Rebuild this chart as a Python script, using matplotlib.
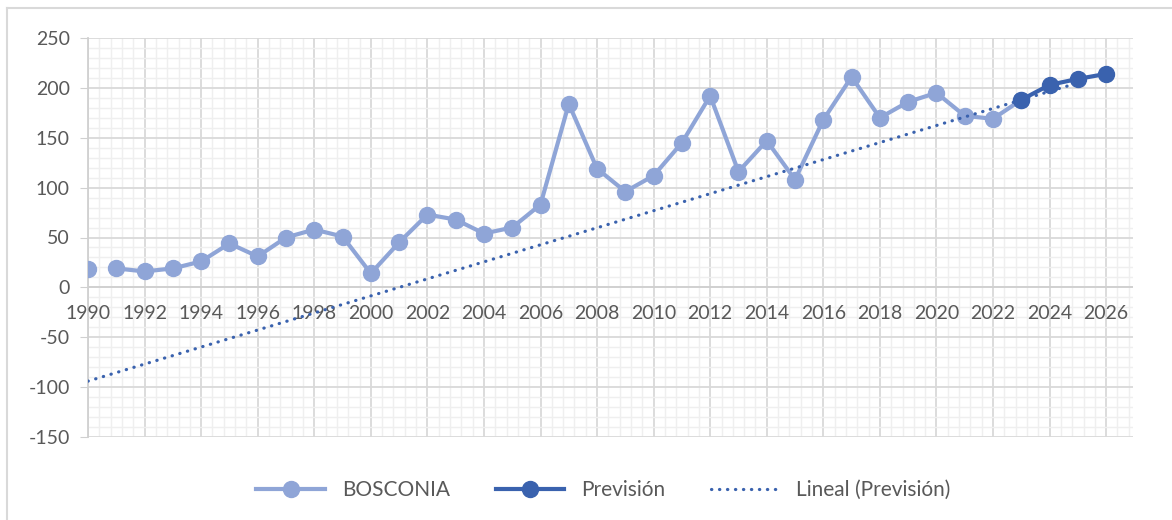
import matplotlib.pyplot as plt
from matplotlib.ticker import MultipleLocator
from matplotlib.lines import Line2D

# --- datos ---
years = [1990, 1991, 1992, 1993, 1994, 1995, 1996, 1997, 1998, 1999,
         2000, 2001, 2002, 2003, 2004, 2005, 2006, 2007, 2008, 2009,
         2010, 2011, 2012, 2013, 2014, 2015, 2016, 2017, 2018, 2019,
         2020, 2021, 2022, 2023]
bosconia = [18, 19, 16, 19, 26, 44, 31, 50, 58, 51,
            14, 45, 73, 68, 54, 60, 83, 184, 119, 96,
            112, 145, 192, 116, 147, 108, 168, 211, 170, 186,
            195, 172, 169, 188]

prev_years = [2023, 2024, 2025, 2026]
prevision = [188, 203, 209, 214]

# tendencia lineal (extremos)
trend_years = [1990, 2025]
trend_values = [-94, 205]

c_light = "#8FA5D7"
c_dark = "#3A62AE"
c_text = "#595959"

plt.rcParams["font.family"] = ["Lato", "DejaVu Sans"]
plt.rcParams["axes.unicode_minus"] = False

fig = plt.figure(figsize=(11.72, 5.2), dpi=100)
ax = fig.add_axes([88 / 1172, 1 - 437 / 520, (1133 - 88) / 1172, (437 - 38) / 520])

# --- cuadricula ---
ax.set_xlim(1990, 2026.95)
ax.set_ylim(-150, 250)
ax.xaxis.set_major_locator(MultipleLocator(2))
ax.xaxis.set_minor_locator(MultipleLocator(0.4))
ax.yaxis.set_major_locator(MultipleLocator(50))
ax.yaxis.set_minor_locator(MultipleLocator(10))
ax.grid(which="major", color="#D9D9D9", lw=1.3, zorder=0)
ax.grid(which="minor", color="#EFEFEF", lw=1.0, zorder=0)
ax.set_axisbelow(True)

for s in ["top", "right", "bottom"]:
    ax.spines[s].set_visible(False)
ax.spines["left"].set_color("#D0D0D0")
ax.spines["left"].set_linewidth(1.3)
ax.axhline(0, color="#D0D0D0", lw=1.3, zorder=1)

ax.tick_params(axis="y", which="major", length=6, color="#D0D0D0",
               labelsize=14, labelcolor=c_text, pad=7)
ax.tick_params(axis="y", which="minor", length=0)
ax.tick_params(axis="x", which="both", length=0)
ax.set_xticks(range(1990, 2027, 2))
ax.set_xticklabels([])
for yr in range(1990, 2027, 2):
    ax.text(yr, -18, str(yr), ha="center", va="top", fontsize=14, color=c_text)

# --- series ---
ax.plot(years[1:], bosconia[1:], color=c_light, lw=3, marker="o", ms=11.5,
        solid_capstyle="round", zorder=3)
ax.plot(years[:1], bosconia[:1], color=c_light, lw=0, marker="o", ms=11.5, zorder=3)
ax.plot(trend_years, trend_values, color=c_dark, lw=2.3,
        linestyle=(0, (0.1, 2.4)), dash_capstyle="round", zorder=4)
ax.plot(prev_years, prevision, color=c_dark, lw=3, marker="o", ms=11.5, zorder=5)

# --- leyenda ---
handles = [
    Line2D([], [], color=c_light, lw=3, marker="o", ms=11.5),
    Line2D([], [], color=c_dark, lw=3, marker="o", ms=11.5),
    Line2D([], [], color=c_dark, lw=2.3, linestyle=(0, (0.1, 2.4)), dash_capstyle="round"),
]
fig.legend(handles, ["BOSCONIA", "Previsión", "Lineal (Previsión)"],
           loc="center", bbox_to_anchor=(0.515, 0.058), ncol=3, frameon=False,
           fontsize=15, labelcolor=c_text, handlelength=3.3, columnspacing=2.2,
           handletextpad=0.8)

# --- borde del grafico ---
fig.add_artist(Line2D([7 / 1172, 1], [1 - 8 / 520, 1 - 8 / 520], color="#D9D9D9", lw=1.5,
                      transform=fig.transFigure))
fig.add_artist(Line2D([7 / 1172, 7 / 1172], [0, 1 - 8 / 520], color="#D9D9D9", lw=1.5,
                      transform=fig.transFigure))

fig.savefig("out.png", dpi=100)
